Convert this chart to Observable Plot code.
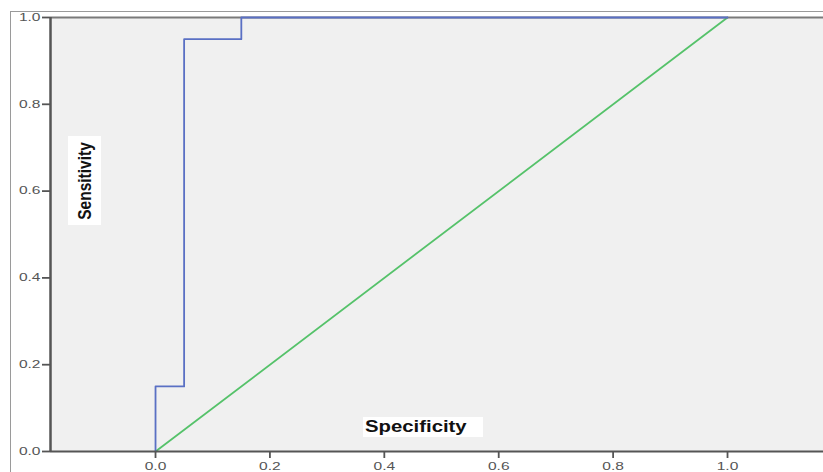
<!DOCTYPE html>
<html>
<head>
<meta charset="utf-8">
<script src="https://cdn.jsdelivr.net/npm/d3@7"></script>
<script src="https://cdn.jsdelivr.net/npm/@observablehq/plot@0.6"></script>
<style>
  html, body { margin: 0; padding: 0; background: #ffffff; }
  #wrap { position: relative; width: 823px; height: 472px; overflow: hidden; font-family: "Liberation Sans", Arial, sans-serif; }
  #outer { position: absolute; left: 10px; top: 11px; width: 900px; height: 600px; border: 1px solid #9a9a9a; box-sizing: border-box; }
  #chart { position: absolute; left: 0; top: 0; }
  #chart svg { background: transparent !important; }
  .lab { position: absolute; background: #ffffff; font-weight: bold; color: #111; font-family: "Liberation Sans", Arial, sans-serif; }
  #ylab { left: 68px; top: 136px; width: 33px; height: 89px; }
  #ylab span { position: absolute; left: 50%; top: 50%; white-space: nowrap; font-size: 15.5px; transform: translate(-50%, -50%) scaleX(1.2) rotate(-90deg); }
  #xlab { left: 363px; top: 417px; width: 120px; height: 20px; }
  #xlab span { position: absolute; left: 2px; top: 0px; line-height: 20px; white-space: nowrap; font-size: 16px; transform-origin: left center; transform: scaleX(1.27); }
</style>
</head>
<body>
<div id="wrap">
  <div id="outer"></div>
  <div id="chart"></div>
  <div class="lab" id="ylab"><span>Sensitivity</span></div>
  <div class="lab" id="xlab"><span>Specificity</span></div>
</div>
<script>
// ROC curve points (x = 1 - specificity as drawn, y = sensitivity)
const rocX = [0, 0, 0.05, 0.05, 0.15, 0.15, 1];
const rocY = [0, 0.15, 0.15, 0.95, 0.95, 1, 1];
// Reference diagonal
const diagX = [0, 1];
const diagY = [0, 1];
// Axis ticks and domains
const xTicks = [0, 0.2, 0.4, 0.6, 0.8, 1.0];
const yTicks = [0, 0.2, 0.4, 0.6, 0.8, 1.0];
const xDomain = [-0.1836, 1.1678];
const yDomain = [0, 1];

const roc = rocX.map((x, i) => ({x, y: rocY[i]}));
const diag = diagX.map((x, i) => ({x, y: diagY[i]}));
const fmt = d3.format(".1f");

const plot = Plot.plot({
  width: 823,
  height: 472,
  marginLeft: 50,
  marginTop: 17,
  marginBottom: 21,
  marginRight: 0,
  style: {background: "transparent", color: "#555", fontFamily: "Liberation Sans, Arial, sans-serif", fontSize: "10px"},
  x: {domain: xDomain},
  y: {domain: yDomain},
  marks: [
    Plot.frame({fill: "#f0f0f0", stroke: "none"}),
    Plot.line(diag, {x: "x", y: "y", stroke: "#55c26a", strokeWidth: 1.8}),
    Plot.ruleY([yDomain[1]], {stroke: "#7a7a7a", strokeWidth: 2}),
    Plot.line(roc, {x: "x", y: "y", stroke: "#5a70c4", strokeWidth: 1.8}),
    Plot.ruleY([yDomain[0]], {stroke: "#555", strokeWidth: 2}),
    Plot.ruleX([xDomain[0]], {stroke: "#555", strokeWidth: 2.5}),
    Plot.axisX({ticks: xTicks, tickFormat: fmt, tickSize: 7, tickPadding: 4, strokeWidth: 1.8, label: null}),
    Plot.axisY({ticks: yTicks, tickFormat: fmt, tickSize: 8, tickPadding: 2, strokeWidth: 1.8, label: null})
  ]
});
document.getElementById("chart").appendChild(plot);

// Stretch tick labels horizontally like the reference
plot.querySelectorAll('g[aria-label$="tick label"] text').forEach(t => {
  const w = t.getComputedTextLength();
  t.setAttribute("textLength", (w * 1.55).toFixed(1));
  t.setAttribute("lengthAdjust", "spacingAndGlyphs");
});
</script>
</body>
</html>
